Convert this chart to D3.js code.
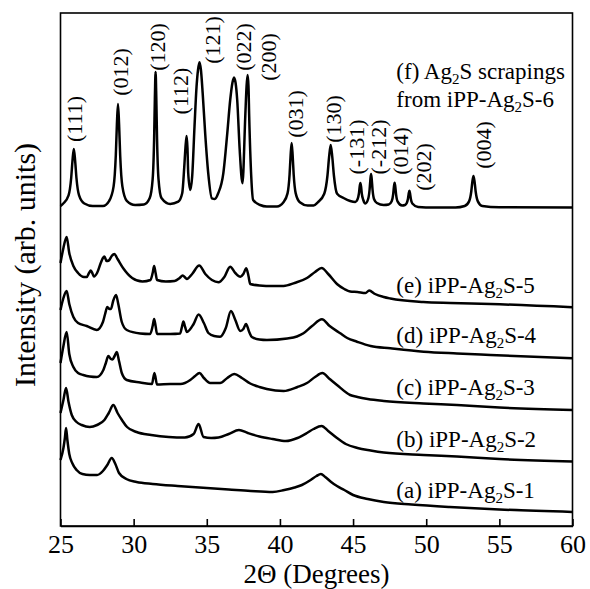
<!DOCTYPE html>
<html>
<head>
<meta charset="utf-8">
<script src="https://cdn.jsdelivr.net/npm/d3@7"></script>
<style>
  html, body { margin: 0; padding: 0; background: #fff; }
  svg { display: block; }
  text { font-family: "Liberation Serif", "Times New Roman", serif; fill: #000; }
</style>
</head>
<body>
<svg id="chart" width="590" height="589"></svg>
<script>
// ---------- DATA (2Theta in degrees, intensity in arbitrary units) ----------
const xTicks = [25, 30, 35, 40, 45, 50, 55, 60];

const patternA = [[25.0,66],[25.2,78],[25.3,88],[25.38,98],[25.47,86],[25.6,72],[25.8,63],[26.1,56],[26.5,52],[27.0,51],[27.5,51],[27.9,55],[28.2,61],[28.5,68],[28.75,62],[29.0,53],[29.5,47],[30.2,44],[31.3,42],[33.0,40],[34.5,38.5],[36.5,36.5],[38.0,35],[39.5,34],[40.3,36],[41.0,38.5],[41.5,41],[42.1,46],[42.5,50],[42.8,52],[43.1,49],[43.5,44],[43.9,40],[44.4,36],[45.0,31],[46.0,27],[47.1,24],[49.0,21.5],[51.6,19],[55.0,16.5],[60,14]];

const patternB = [[25.0,113],[25.2,126],[25.38,138],[25.55,124],[25.77,111],[26.1,104],[26.45,101],[27.0,99],[27.5,101],[28.0,106],[28.3,113],[28.61,121],[28.9,113],[29.2,106],[29.55,99],[30.2,94],[31.2,91],[32.4,89],[33.5,88.5],[34.1,92],[34.44,102],[34.78,89],[35.3,88],[35.8,88.5],[36.5,92],[37.2,96],[37.8,93],[38.6,89.5],[39.5,87],[40.4,85],[41.2,88],[41.85,93],[42.3,97],[42.85,100],[43.3,95],[43.9,88],[44.5,82],[45.3,78],[46.2,75.5],[47.1,73.5],[49.8,71],[52.1,69.5],[55,67],[60,64.5]];

const patternC = [[25.0,163],[25.2,180],[25.42,194],[25.6,172],[25.88,159],[26.2,153],[26.56,151],[27.0,149.5],[27.48,149],[27.93,156],[28.1,163],[28.27,170],[28.45,167],[28.55,166.5],[28.7,170],[28.85,174],[29.0,165],[29.19,153],[29.53,146],[30.45,143.5],[31.25,142],[31.42,153],[31.6,141.5],[32.5,142],[33.2,142],[33.87,146],[34.2,150],[34.5,153],[34.8,148],[35.23,143],[35.91,143],[36.4,148],[36.88,152],[37.4,148],[37.97,142.5],[38.6,139],[39.1,137],[40.25,135],[41.2,139],[41.85,143],[42.4,149],[42.9,153],[43.4,147],[43.9,141],[44.8,131],[45.3,129],[46.0,127],[47.1,125],[49.8,122.5],[52.1,121],[55,118.5],[60,116]];

const patternD = [[25.0,216],[25.2,228],[25.42,235],[25.6,222],[25.88,209],[26.2,203],[26.79,200],[27.48,196],[27.9,204],[28.05,212],[28.2,219],[28.35,217],[28.45,217],[28.6,225],[28.8,231],[28.95,222],[29.19,204],[29.53,196],[30.45,192.5],[31.13,192],[31.3,200],[31.4,207],[31.5,200],[31.6,192],[32.5,192],[33.18,192.5],[33.3,199],[33.4,204.5],[33.52,199],[33.64,194],[34.1,202],[34.44,211.5],[34.8,203],[35.11,193],[35.5,190],[35.91,189.3],[36.3,198],[36.65,215],[36.95,206],[37.29,195],[37.5,197],[37.68,202],[37.9,194],[38.08,189],[38.6,186.5],[39.11,186],[40.5,187.5],[41.16,189.5],[41.61,192.7],[42.2,200],[42.87,206.7],[43.4,200],[44.12,192.7],[44.6,188],[45.27,184.3],[46.2,180],[47.55,177.7],[49.83,174.3],[52.1,172.5],[54.39,171],[60,167.7]];

const patternE = [[25.0,263],[25.2,278],[25.42,289],[25.6,273],[25.88,260],[26.2,253],[26.6,249],[26.79,249],[26.95,253],[27.07,255.5],[27.2,252],[27.29,249.5],[27.5,253],[27.75,263],[27.9,268],[28.0,269.5],[28.15,265],[28.3,265.5],[28.5,270],[28.68,272],[28.9,267],[29.3,257.5],[29.9,248],[30.6,244.5],[31.15,246],[31.3,253],[31.4,260],[31.5,253],[31.6,246],[32.2,244.5],[32.8,245],[33.15,248],[33.35,250.5],[33.55,248],[33.64,247],[34.0,252],[34.48,260.5],[34.9,252],[35.35,246],[35.8,243.7],[36.2,249],[36.6,259.3],[36.95,253],[37.3,249.3],[37.5,252],[37.7,257.7],[37.85,250],[37.97,242],[38.6,240.5],[39.5,240],[40.25,240],[41.0,243],[41.85,248],[42.4,254],[42.85,258],[43.3,252],[43.9,242],[44.4,237],[44.8,234.5],[45.3,234],[45.85,233],[46.1,235.5],[46.5,232],[47.1,229],[47.55,227.5],[49.8,224],[51.65,223],[54.4,222],[60,218.7]];

const patternF = [[25.0,320],[25.19,322.5],[25.55,330.6],[25.73,348],[25.82,365.4],[25.91,377],[26.0,365.4],[26.09,348],[26.27,330.6],[26.63,322.5],[27.2,320],[27.9,320],[28.33,325.2],[28.63,339.6],[28.78,370.5],[28.855,401.4],[28.93,422],[29.005,401.4],[29.08,370.5],[29.23,339.6],[29.53,325.2],[30.1,321],[30.7,321.5],[31.1,328],[31.3,346.8],[31.4,387],[31.45,427],[31.5,454],[31.55,427],[31.6,387],[31.7,346.8],[31.9,328],[32.5,322],[33.05,324.3],[33.32,332.7],[33.46,359],[33.54,378],[33.62,390],[33.68,378],[33.73,353],[33.87,336],[34.0,349.3],[34.16,399.3],[34.3,439.3],[34.4,456],[34.5,463.7],[34.6,456],[34.72,432.7],[34.89,392.7],[35.1,352.7],[35.35,327.7],[35.55,327],[35.78,332.7],[36.13,352.7],[36.4,392.7],[36.6,426],[36.75,443],[36.86,448.5],[36.97,443],[37.08,426],[37.25,376],[37.44,342.7],[37.63,409.3],[37.72,440],[37.79,451],[37.85,440],[37.9,409.3],[38.04,349.3],[38.17,326],[38.65,321],[39.1,319.5],[39.8,319.5],[40.24,323.8],[40.52,332.6],[40.66,351.5],[40.73,370.4],[40.8,383],[40.87,370.4],[40.94,351.5],[41.08,332.6],[41.36,323.8],[41.9,320.5],[42.3,320.5],[42.59,323.7],[43.03,332.2],[43.25,350.5],[43.36,368.8],[43.47,381],[43.58,368.8],[43.69,350.5],[43.91,332.2],[44.35,328],[44.8,325],[45.15,324],[45.3,326.5],[45.4,332.5],[45.45,339],[45.5,343],[45.55,339],[45.6,332],[45.7,326],[45.84,322.5],[46.03,327],[46.13,336.5],[46.18,346],[46.23,352],[46.28,346],[46.33,336.5],[46.43,327],[46.63,323],[47.09,321],[47.44,321.5],[47.64,324.7],[47.74,331.7],[47.79,338.8],[47.84,343.3],[47.89,338.8],[47.94,331.7],[48.04,324.7],[48.35,320.5],[48.55,321],[48.65,322.5],[48.75,327],[48.8,332],[48.85,335.3],[48.9,332],[48.95,327],[49.05,322.5],[49.45,319],[50.5,318.5],[52.0,318.5],[52.63,320],[52.93,324.6],[53.08,334.5],[53.155,344.4],[53.23,350],[53.305,344.4],[53.38,334.5],[53.53,324.6],[53.83,320],[55,318.7],[60,318.5]];

// Miller index labels: text, 2Theta anchor, intensity anchor
const peakLabelText = ["(111)","(012)","(120)","(112)","(121)","(022)","(200)","(031)","(130)","(-131)","(-212)","(014)","(202)","(004)"];
const peakLabelX    = [25.99, 29.07, 31.6, 33.18, 35.37, 37.49, 39.2, 41.04, 43.64, 45.21, 46.72, 48.23, 49.8, 53.91];
const peakLabelY    = [407, 454, 479, 435, 486, 479, 469, 412, 407, 379, 379, 375, 359, 381];

// Sample labels: [prefix, suffix] around the subscript "2"
const sampleLabels = [
  { lines: [["(f) Ag", "S scrapings"], ["from iPP-Ag", "S-6"]], x: 47.96, y: [447, 419] },
  { lines: [["(e) iPP-Ag", "S-5"]], x: 47.96, y: [233] },
  { lines: [["(d) iPP-Ag", "S-4"]], x: 47.96, y: [183] },
  { lines: [["(c) iPP-Ag", "S-3"]], x: 47.96, y: [131] },
  { lines: [["(b) iPP-Ag", "S-2"]], x: 47.96, y: [79] },
  { lines: [["(a) iPP-Ag", "S-1"]], x: 47.96, y: [28] }
];

const patterns = [patternA, patternB, patternC, patternD, patternE, patternF];

// ---------- CHART ----------
(function () {
const svg = d3.select("#chart");
const mLeft = 60.5, mRight = 572.5, mTop = 13, mBottom = 526;

const x = d3.scaleLinear().domain([25, 60]).range([mLeft, mRight]);
const y = d3.scaleLinear().domain([0, 513]).range([mBottom, mTop]);

const line = d3.line()
  .x(d => x(d[0]))
  .y(d => y(d[1]))
  .curve(d3.curveMonotoneX);

svg.append("g")
  .selectAll("path")
  .data(patterns)
  .join("path")
  .attr("d", line)
  .attr("fill", "none")
  .attr("stroke", "#000")
  .attr("stroke-width", 2.5)
  .attr("stroke-linejoin", "round");

// frame
svg.append("rect")
  .attr("x", mLeft).attr("y", mTop)
  .attr("width", mRight - mLeft).attr("height", mBottom - mTop)
  .attr("fill", "none").attr("stroke", "#000").attr("stroke-width", 1.6);

// x axis
const xAxis = d3.axisBottom(x).tickValues(xTicks).tickFormat(d3.format("d"))
  .tickSizeInner(-7).tickSizeOuter(0);
const gx = svg.append("g").attr("transform", `translate(0,${mBottom})`).call(xAxis);
gx.attr("font-family", null).attr("font-size", null);
gx.select(".domain").attr("stroke", "#000").attr("stroke-width", 1.6);
gx.selectAll(".tick line").attr("stroke", "#000").attr("stroke-width", 1.6);
gx.selectAll(".tick text")
  .attr("y", 27).attr("dy", 0)
  .style("font-family", '"Liberation Serif", "Times New Roman", serif')
  .style("font-size", "26px").attr("fill", "#000");

// axis titles
svg.append("text")
  .attr("x", (mLeft + mRight) / 2).attr("y", 582.5)
  .attr("text-anchor", "middle")
  .style("font-size", "27px")
  .text("2Θ (Degrees)");

svg.append("text")
  .attr("transform", `translate(35,265) rotate(-90)`)
  .attr("text-anchor", "middle")
  .style("font-size", "30px")
  .text("Intensity (arb. units)");

// peak labels
svg.append("g")
  .selectAll("text")
  .data(peakLabelText)
  .join("text")
  .attr("transform", (d, i) => `translate(${x(peakLabelX[i])},${y(peakLabelY[i])}) rotate(-90)`)
  .attr("text-anchor", "middle")
  .attr("dominant-baseline", "central")
  .style("font-size", "22px")
  .text(d => d);

// sample labels
sampleLabels.forEach(s => {
  s.lines.forEach((ln, j) => {
    const t = svg.append("text")
      .attr("x", x(s.x)).attr("y", y(s.y[j]))
      .style("font-size", "23px");
    t.append("tspan").text(ln[0]);
    t.append("tspan").attr("dy", 5).style("font-size", "15px").text("2");
    t.append("tspan").attr("dy", -5).text(ln[1]);
  });
});
})();
</script>
</body>
</html>
